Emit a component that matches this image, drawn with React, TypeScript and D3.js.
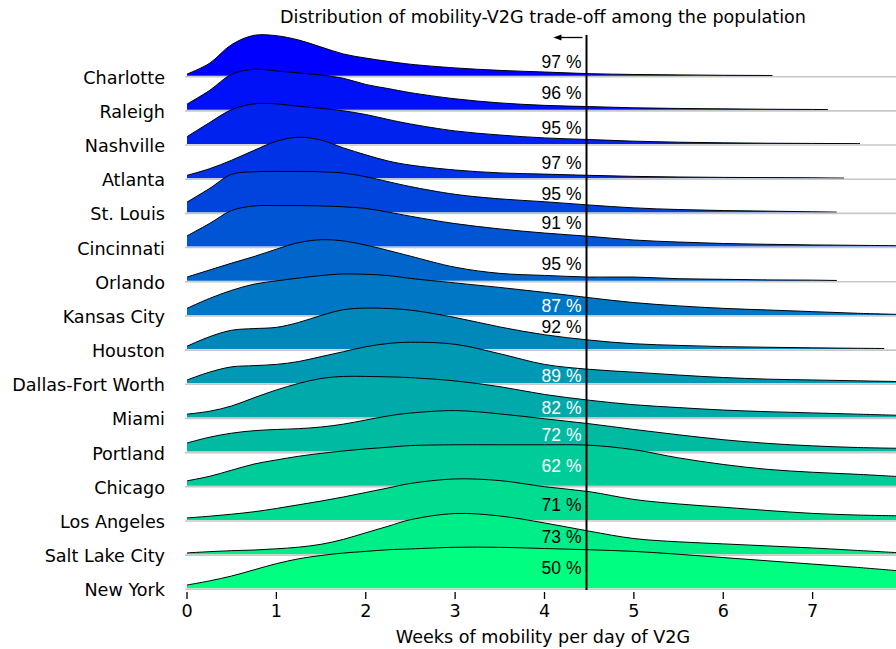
import React from "react";
import * as d3 from "d3";

const cities = [
  "Charlotte", "Raleigh", "Nashville", "Atlanta", "St. Louis", "Cincinnati",
  "Orlando", "Kansas City", "Houston", "Dallas-Fort Worth", "Miami", "Portland",
  "Chicago", "Los Angeles", "Salt Lake City", "New York",
];

// grid of x positions (weeks) at which the normalised densities were read
const xs = [0, 0.25, 0.5, 0.75, 1, 1.25, 1.5, 1.75, 2, 2.25, 2.5, 3, 3.5, 4, 4.5, 5, 5.5, 6, 6.5, 7, 7.5, 8];

const charlotte = [0.04, 0.3, 0.76, 0.985, 0.975, 0.87, 0.7, 0.53, 0.43, 0.35, 0.28, 0.19, 0.13, 0.09, 0.05, 0.03, 0.02, 0.01, 0.005, 0, 0, 0];
const raleigh = [0.14, 0.47, 0.87, 0.99, 0.95, 0.9, 0.85, 0.77, 0.62, 0.52, 0.42, 0.27, 0.17, 0.11, 0.08, 0.05, 0.035, 0.025, 0.015, 0.01, 0, 0];
const nashville = [0.18, 0.52, 0.84, 0.98, 0.98, 0.92, 0.87, 0.81, 0.72, 0.6, 0.49, 0.32, 0.22, 0.15, 0.11, 0.07, 0.045, 0.03, 0.02, 0.015, 0.01, 0];
const atlanta = [0.07, 0.23, 0.44, 0.68, 0.9, 1.0, 0.93, 0.74, 0.57, 0.42, 0.32, 0.2, 0.13, 0.1, 0.07, 0.045, 0.03, 0.02, 0.015, 0.01, 0, 0];
const stLouis = [0.25, 0.58, 0.93, 0.99, 1.0, 1.0, 0.99, 0.96, 0.87, 0.75, 0.63, 0.44, 0.33, 0.26, 0.18, 0.11, 0.07, 0.045, 0.03, 0.015, 0, 0];
const cincinnati = [0.26, 0.56, 0.88, 0.99, 1.0, 1.0, 0.99, 0.97, 0.93, 0.84, 0.74, 0.56, 0.43, 0.33, 0.25, 0.16, 0.11, 0.075, 0.055, 0.04, 0.03, 0.02];
const orlando = [0.09, 0.26, 0.43, 0.59, 0.77, 0.93, 1.0, 0.97, 0.87, 0.74, 0.6, 0.33, 0.18, 0.13, 0.09, 0.09, 0.05, 0.035, 0.02, 0.015, 0, 0];
const kansasCity = [0.16, 0.4, 0.6, 0.75, 0.83, 0.9, 0.96, 1.0, 0.99, 0.96, 0.89, 0.78, 0.67, 0.55, 0.42, 0.3, 0.22, 0.16, 0.12, 0.08, 0.04, 0.01];
const houston = [0.07, 0.3, 0.46, 0.5, 0.53, 0.65, 0.82, 0.96, 1.0, 0.99, 0.95, 0.77, 0.54, 0.35, 0.22, 0.13, 0.09, 0.06, 0.045, 0.03, 0.02, 0.01];
const dallas = [0.08, 0.27, 0.4, 0.43, 0.46, 0.53, 0.65, 0.77, 0.89, 0.97, 1.0, 0.95, 0.72, 0.46, 0.34, 0.27, 0.2, 0.14, 0.1, 0.08, 0.06, 0.04];
const miami = [0.08, 0.15, 0.28, 0.48, 0.67, 0.83, 0.95, 1.0, 1.0, 0.99, 0.97, 0.89, 0.75, 0.56, 0.42, 0.31, 0.24, 0.18, 0.14, 0.11, 0.08, 0.05];
const portland = [0.21, 0.35, 0.45, 0.51, 0.54, 0.56, 0.6, 0.67, 0.77, 0.87, 0.94, 1.0, 0.92, 0.8, 0.68, 0.54, 0.41, 0.29, 0.2, 0.14, 0.1, 0.08];
const chicago = [0.12, 0.23, 0.38, 0.53, 0.63, 0.72, 0.79, 0.85, 0.9, 0.94, 0.98, 1.0, 1.0, 1.0, 0.99, 0.88, 0.68, 0.52, 0.4, 0.33, 0.28, 0.22];
const losAngeles = [0.05, 0.09, 0.14, 0.2, 0.28, 0.37, 0.46, 0.56, 0.67, 0.78, 0.89, 1.0, 0.96, 0.81, 0.69, 0.5, 0.39, 0.31, 0.23, 0.16, 0.12, 0.1];
const saltLakeCity = [0.03, 0.06, 0.085, 0.1, 0.13, 0.17, 0.24, 0.36, 0.52, 0.68, 0.84, 0.99, 0.93, 0.76, 0.56, 0.38, 0.3, 0.25, 0.2, 0.15, 0.09, 0.03];
const newYork = [0.08, 0.18, 0.3, 0.45, 0.6, 0.72, 0.8, 0.86, 0.9, 0.94, 0.96, 1.0, 1.0, 0.97, 0.94, 0.9, 0.83, 0.75, 0.67, 0.59, 0.51, 0.42];

const densities = [
  charlotte, raleigh, nashville, atlanta, stLouis, cincinnati, orlando, kansasCity,
  houston, dallas, miami, portland, chicago, losAngeles, saltLakeCity, newYork,
];

// largest observed value of each distribution (weeks)
const maxValues = [6.55, 7.17, 7.53, 7.35, 7.27, 9, 7.27, 9, 7.8, 9, 9, 9, 9, 9, 9, 9];

// share of the population below the threshold
const shares = [97, 96, 95, 97, 95, 91, 95, 87, 92, 89, 82, 72, 62, 71, 73, 50];
// height (in density units) at which each share label sits
const shareLabelLevels = [0.34, 0.41, 0.39, 0.37, 0.45, 0.58, 0.41, 0.22, 0.55, 0.17, 0.23, 0.41, 0.48, 0.37, 0.41, 0.49];
const whiteLabels = ["Kansas City", "Dallas-Fort Worth", "Miami", "Portland", "Chicago"];

const threshold = 4.47;
const arrowEnd = 4.1;
const xTicks = [0, 1, 2, 3, 4, 5, 6, 7];

const title = "Distribution of mobility-V2G trade-off among the population";
const xLabel = "Weeks of mobility per day of V2G";

const W = 896;
const H = 649;

export default function App() {
  const x = d3.scaleLinear().domain([0, 8]).range([187, 902]);
  const yBase = d3.scaleLinear().domain([0, cities.length - 1]).range([75.7, 588.3]);
  const ridgeH = 41;
  const color = (i: number) => d3.interpolateRgb("#0000ff", "#00ff80")(i / (cities.length - 1));

  const font = "'DejaVu Sans', sans-serif";
  const pctFont = "'Liberation Sans', Arial, sans-serif";
  const fs = 17.6;

  return (
    <div style={{ position: "absolute", left: 0, top: 0 }}>
      <svg width={W} height={H} style={{ display: "block", background: "#fff" }}>
        <defs>
          {cities.map((c, i) => (
            <clipPath id={`clip${i}`} key={c}>
              <rect x={0} y={0} width={x(maxValues[i])} height={H} />
            </clipPath>
          ))}
        </defs>
        {cities.map((c, i) => {
          const b = yBase(i);
          const pts: [number, number][] = xs.map((v, j) => [v, densities[i][j]]);
          const yv = (d: [number, number]) => Math.min(b, b - d[1] * ridgeH);
          const area = d3
            .area<[number, number]>()
            .x((d) => x(d[0]))
            .y0(b)
            .y1(yv)
            .curve(d3.curveCatmullRom.alpha(0.5));
          const line = d3
            .line<[number, number]>()
            .x((d) => x(d[0]))
            .y(yv)
            .curve(d3.curveCatmullRom.alpha(0.5));
          return (
            <g key={c}>
              <g clipPath={`url(#clip${i})`}>
                <path d={area(pts) || ""} fill={color(i)} stroke="none" />
                <path d={line(pts) || ""} fill="none" stroke="#000" strokeWidth={1} />
              </g>
              <line x1={x(0) - 2} x2={W} y1={b + 1} y2={b + 1} stroke="#c8c8c8" strokeWidth={1.6} />
              <text
                x={165}
                y={b + 2}
                textAnchor="end"
                dominantBaseline="central"
                fontFamily={font}
                fontSize={fs}
                fill="#000"
              >
                {c}
              </text>
            </g>
          );
        })}
        <line
          x1={x(threshold)}
          x2={x(threshold)}
          y1={35}
          y2={590}
          stroke="#000"
          strokeWidth={2}
        />
        <line x1={x(threshold) - 4} x2={x(arrowEnd) + 6} y1={37.5} y2={37.5} stroke="#000" strokeWidth={1.3} />
        <path
          d={`M${x(arrowEnd)},37.5 L${x(arrowEnd) + 8},34.5 L${x(arrowEnd) + 8},40.5 Z`}
          fill="#000"
        />
        {cities.map((c, i) => (
          <text
            key={c}
            x={581.5}
            y={yBase(i) - shareLabelLevels[i] * ridgeH}
            textAnchor="end"
            dominantBaseline="central"
            fontFamily={pctFont}
            fontSize={17.5}
            fill={whiteLabels.includes(c) ? "#fff" : "#000"}
          >
            {`${shares[i]} %`}
          </text>
        ))}
        {xTicks.map((t) => (
          <g key={t}>
            <line x1={x(t)} x2={x(t)} y1={592} y2={599} stroke="#000" strokeWidth={1.3} />
            <text
              x={x(t)}
              y={611}
              textAnchor="middle"
              dominantBaseline="central"
              fontFamily={font}
              fontSize={fs}
            >
              {t}
            </text>
          </g>
        ))}
        <text x={543} y={637} textAnchor="middle" dominantBaseline="central" fontFamily={font} fontSize={fs}>
          {xLabel}
        </text>
        <text x={543} y={17} textAnchor="middle" dominantBaseline="central" fontFamily={font} fontSize={fs}>
          {title}
        </text>
      </svg>
    </div>
  );
}
